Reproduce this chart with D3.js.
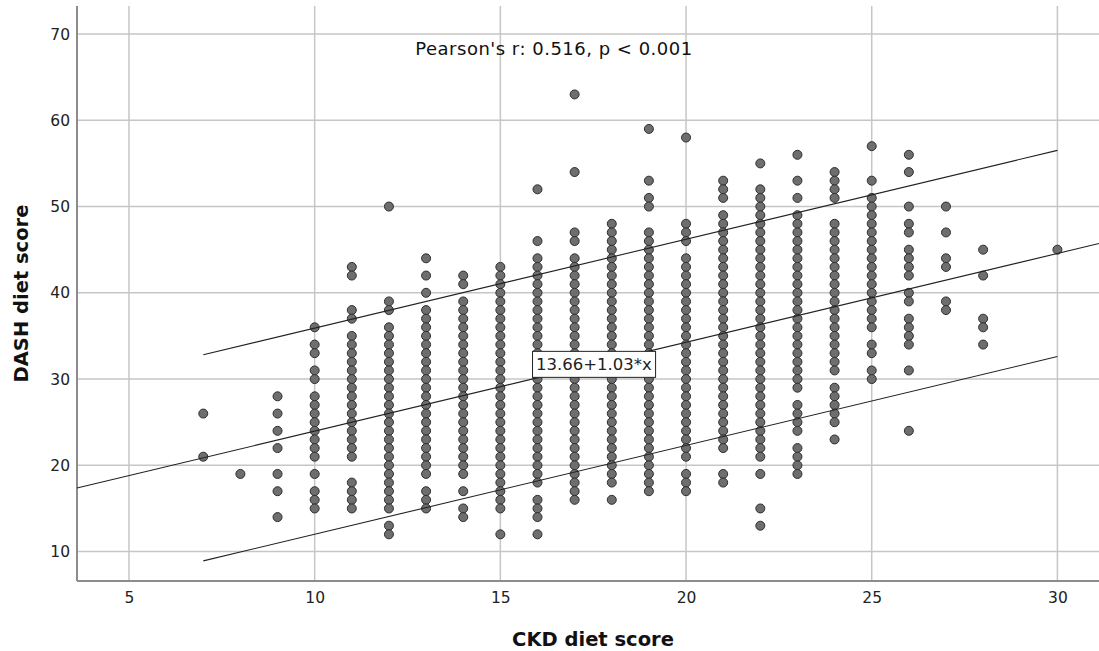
<!DOCTYPE html>
<html>
<head>
<meta charset="utf-8">
<script src="https://cdn.jsdelivr.net/npm/d3@7"></script>
<style>
  body { margin: 0; background: #fff; }
  svg { display: block; font-family: "DejaVu Sans", sans-serif; }
</style>
</head>
<body>
<div id="chart"></div>
<script>
// CKD diet score (x) and the DASH diet scores observed at each one
const ckdScores = [7, 8, 9, 10, 11, 12, 13, 14, 15, 16, 17, 18, 19, 20, 21, 22, 23, 24, 25, 26, 27, 28, 30];
const dashScores = [
  [26, 21],
  [19],
  [28, 26, 24, 22, 19, 17, 14],
  [36, 34, 33, 31, 30, 28, 27, 26, 25, 24, 23, 22, 21, 19, 17, 16, 15],
  [43, 42, 38, 37, 35, 34, 33, 32, 31, 30, 29, 28, 27, 26, 25, 24, 23, 22, 21, 18, 17, 16, 15],
  [50, 39, 38, 36, 35, 34, 33, 32, 31, 30, 29, 28, 27, 26, 25, 24, 23, 22, 21, 20, 19, 18, 17, 16, 15, 13, 12],
  [44, 42, 40, 38, 37, 36, 35, 34, 33, 32, 31, 30, 29, 28, 27, 26, 25, 24, 23, 22, 21, 20, 19, 17, 16, 15],
  [42, 41, 39, 38, 37, 36, 35, 34, 33, 32, 31, 30, 29, 28, 27, 26, 25, 24, 23, 22, 21, 20, 19, 17, 15, 14],
  [43, 42, 41, 40, 39, 38, 37, 36, 35, 34, 33, 32, 31, 30, 29, 28, 27, 26, 25, 24, 23, 22, 21, 20, 19, 18, 17, 16, 15, 12],
  [52, 46, 44, 43, 42, 41, 40, 39, 38, 37, 36, 35, 34, 33, 32, 31, 30, 29, 28, 27, 26, 25, 24, 23, 22, 21, 20, 19, 18, 16, 15, 14, 12],
  [63, 54, 47, 46, 44, 43, 42, 41, 40, 39, 38, 37, 36, 35, 34, 33, 32, 31, 30, 29, 28, 27, 26, 25, 24, 23, 22, 21, 20, 19, 18, 17, 16],
  [48, 47, 46, 45, 44, 43, 42, 41, 40, 39, 38, 37, 36, 35, 34, 33, 32, 31, 30, 29, 28, 27, 26, 25, 24, 23, 22, 21, 20, 19, 18, 16],
  [59, 53, 51, 50, 47, 46, 45, 44, 43, 42, 41, 40, 39, 38, 37, 36, 35, 34, 33, 32, 31, 30, 29, 28, 27, 26, 25, 24, 23, 22, 21, 20, 19, 18, 17],
  [58, 48, 47, 46, 44, 43, 42, 41, 40, 39, 38, 37, 36, 35, 34, 33, 32, 31, 30, 29, 28, 27, 26, 25, 24, 23, 22, 21, 19, 18, 17],
  [53, 52, 51, 49, 48, 47, 46, 45, 44, 43, 42, 41, 40, 39, 38, 37, 36, 35, 34, 33, 32, 31, 30, 29, 28, 27, 26, 25, 24, 23, 22, 19, 18],
  [55, 52, 51, 50, 49, 48, 47, 46, 45, 44, 43, 42, 41, 40, 39, 38, 37, 36, 35, 34, 33, 32, 31, 30, 29, 28, 27, 26, 25, 24, 23, 22, 21, 19, 15, 13],
  [56, 53, 51, 49, 48, 47, 46, 45, 44, 43, 42, 41, 40, 39, 38, 37, 36, 35, 34, 33, 32, 31, 30, 29, 27, 26, 25, 24, 22, 21, 20, 19],
  [54, 53, 52, 51, 48, 47, 46, 45, 44, 43, 42, 41, 40, 39, 38, 37, 36, 35, 34, 33, 32, 31, 29, 28, 27, 26, 25, 23],
  [57, 53, 51, 50, 49, 48, 47, 46, 45, 44, 43, 42, 41, 40, 39, 38, 37, 36, 34, 33, 31, 30],
  [56, 54, 50, 48, 47, 45, 44, 43, 42, 40, 39, 37, 36, 35, 34, 31, 24],
  [50, 47, 44, 43, 39, 38],
  [45, 42, 37, 36, 34],
  [45]
];

const xTicks = [5, 10, 15, 20, 25, 30];
const yTicks = [10, 20, 30, 40, 50, 60, 70];

// linear fit and 95% prediction band half-width
const fitIntercept = 13.66;
const fitSlope = 1.03;
const predHalfWidth = 11.95;
const bandRange = [7, 30];
const fitLabel = "13.66+1.03*x";
const fitLabelAt = 17.52;
const statsText = "Pearson's r: 0.516, p < 0.001";

const W = 1099, H = 651;
const margin = { top: 6, right: 0, bottom: 70, left: 77 };

const svg = d3.select("#chart").append("svg")
  .attr("width", W)
  .attr("height", H);

const x = d3.scaleLinear()
  .domain([3.6, 31.12])
  .range([margin.left, W - margin.right]);

const y = d3.scaleLinear()
  .domain([6.59, 73.25])
  .range([H - margin.bottom, margin.top]);

// grid lines
svg.append("g")
  .selectAll("line.vgrid")
  .data(xTicks)
  .join("line")
  .attr("x1", d => x(d)).attr("x2", d => x(d))
  .attr("y1", margin.top).attr("y2", H - margin.bottom)
  .attr("stroke", "#c6c6c6")
  .attr("stroke-width", 1.5);

svg.append("g")
  .selectAll("line.hgrid")
  .data(yTicks)
  .join("line")
  .attr("x1", margin.left).attr("x2", W - margin.right)
  .attr("y1", d => y(d)).attr("y2", d => y(d))
  .attr("stroke", "#c6c6c6")
  .attr("stroke-width", 1.5);

// axes: labels only, the frame lines drawn separately
const xAxis = svg.append("g")
  .attr("transform", `translate(0,${H - margin.bottom})`)
  .call(d3.axisBottom(x).tickValues(xTicks).tickSize(0).tickPadding(11));

const yAxis = svg.append("g")
  .attr("transform", `translate(${margin.left},0)`)
  .call(d3.axisLeft(y).tickValues(yTicks).tickSize(0).tickPadding(7));

[xAxis, yAxis].forEach(g => {
  g.select(".domain").remove();
  g.selectAll("text")
    .attr("font-family", "DejaVu Sans, sans-serif")
    .attr("font-size", 15.5)
    .attr("fill", "#222");
});

svg.append("line")
  .attr("x1", margin.left).attr("x2", margin.left)
  .attr("y1", margin.top).attr("y2", H - margin.bottom)
  .attr("stroke", "#8c8c8c").attr("stroke-width", 2);

svg.append("line")
  .attr("x1", margin.left).attr("x2", W - margin.right)
  .attr("y1", H - margin.bottom).attr("y2", H - margin.bottom)
  .attr("stroke", "#8c8c8c").attr("stroke-width", 2);

// points
const points = ckdScores.flatMap((c, i) => dashScores[i].map(v => ({ ckd: c, dash: v })));

svg.append("g")
  .selectAll("circle")
  .data(points)
  .join("circle")
  .attr("cx", d => x(d.ckd))
  .attr("cy", d => y(d.dash))
  .attr("r", 4.5)
  .attr("fill", "#6e6e6e")
  .attr("stroke", "#2e2e2e")
  .attr("stroke-width", 1);

// fit line and prediction band
const fit = v => fitIntercept + fitSlope * v;
const line = d3.line().x(d => x(d[0])).y(d => y(d[1]));

svg.append("path")
  .attr("d", line(x.domain().map(v => [v, fit(v)])))
  .attr("fill", "none").attr("stroke", "#222").attr("stroke-width", 1.1);

[1, -1].forEach(s => {
  svg.append("path")
    .attr("d", line(bandRange.map(v => [v, fit(v) + s * predHalfWidth])))
    .attr("fill", "none").attr("stroke", "#222").attr("stroke-width", 1.1);
});

// fit label box
const lbl = svg.append("g")
  .attr("transform", `translate(${x(fitLabelAt)},${y(fit(fitLabelAt))})`);
const lblText = lbl.append("text")
  .attr("text-anchor", "middle")
  .attr("dy", "0.36em")
  .attr("font-size", 16.5)
  .attr("fill", "#222")
  .text(fitLabel);
const bb = lblText.node().getBBox();
lbl.insert("rect", "text")
  .attr("x", bb.x - 3.5).attr("y", -13)
  .attr("width", bb.width + 7).attr("height", 26)
  .attr("fill", "#fff").attr("stroke", "#222").attr("stroke-width", 1);

// stats annotation
svg.append("text")
  .attr("x", 554).attr("y", 55)
  .attr("text-anchor", "middle")
  .attr("font-size", 18)
  .attr("letter-spacing", 0.5)
  .attr("fill", "#111")
  .text(statsText);

// axis titles
svg.append("text")
  .attr("x", 593)
  .attr("y", 646)
  .attr("text-anchor", "middle")
  .attr("font-size", 19.5)
  .attr("font-weight", "bold")
  .attr("fill", "#111")
  .text("CKD diet score");

svg.append("text")
  .attr("transform", `translate(28,${(margin.top + H - margin.bottom) / 2}) rotate(-90)`)
  .attr("text-anchor", "middle")
  .attr("font-size", 19.5)
  .attr("font-weight", "bold")
  .attr("fill", "#111")
  .text("DASH diet score");
</script>
</body>
</html>
